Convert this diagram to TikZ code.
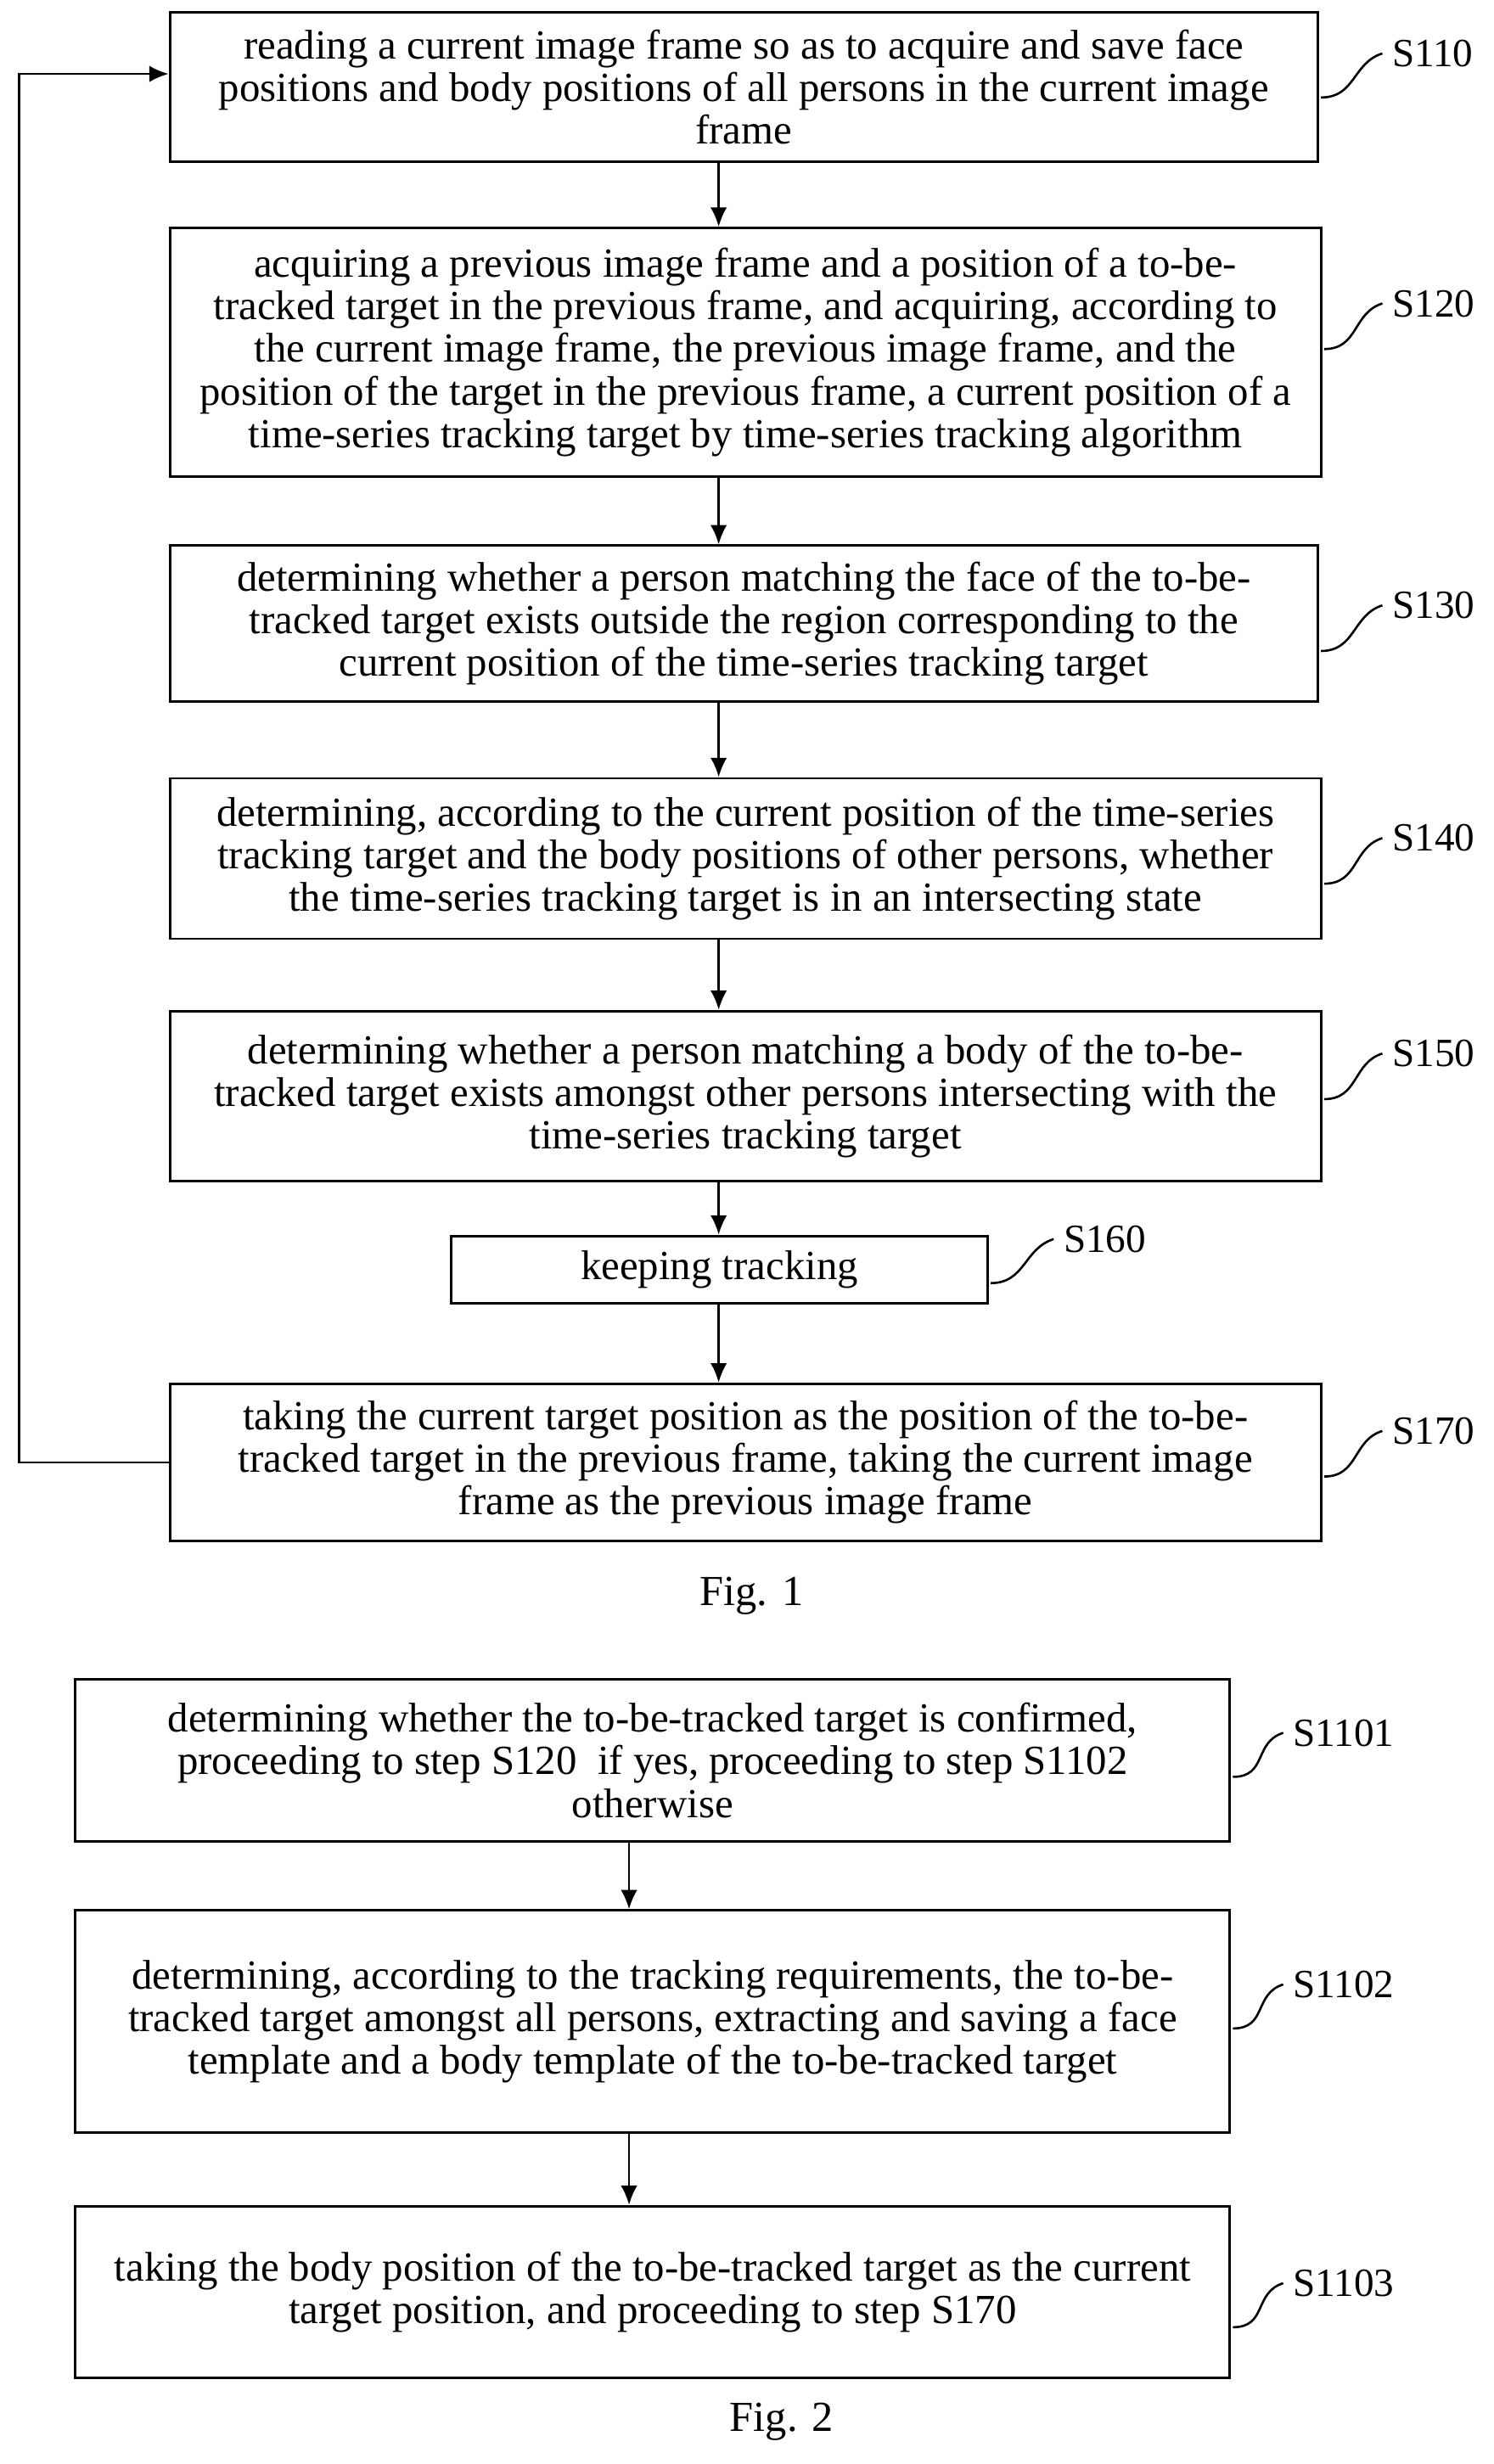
\documentclass[tikz,border=0pt]{standalone}
\usepackage{fontspec}
\setmainfont{Liberation Serif}
\usetikzlibrary{arrows.meta,calc}
\begin{document}
\begin{tikzpicture}[x=0.02cm,y=-0.02cm,
  box/.style={draw,line width=0.9pt,inner sep=0pt,align=center,font=\fontsize{15}{15.4}\selectfont},
  lab/.style={font=\fontsize{14.5}{15}\selectfont,anchor=west,inner sep=0pt},
  arr/.style={-{Latex[length=7pt,width=6pt]},line width=0.8pt},
  brk/.style={line width=0.8pt}]
\useasboundingbox (0,0) rectangle (950,1567);
\newcommand{\bx}[5]{\node[box,minimum width=#3*0.02cm,minimum height=#4*0.02cm] (#1) at (#2) {#5};}
\bx{b110}{473,55.5}{730}{95}{reading a current image frame so as to acquire and save face\\ positions and body positions of all persons in the current image\\ frame}
\bx{b120}{474,224}{732}{158}{acquiring a previous image frame and a position of a to-be-\\tracked target in the previous frame, and acquiring, according to\\ the current image frame, the previous image frame, and the\\ position of the target in the previous frame, a current position of a\\ time-series tracking target by time-series tracking algorithm}
\bx{b130}{473,396.5}{730}{99}{determining whether a person matching the face of the to-be-\\tracked target exists outside the region corresponding to the\\ current position of the time-series tracking target}
\bx{b140}{474,546}{732}{102}{determining, according to the current position of the time-series\\ tracking target and the body positions of other persons, whether\\ the time-series tracking target is in an intersecting state}
\bx{b150}{474,697}{732}{108}{determining whether a person matching a body of the to-be-\\tracked target exists amongst other persons intersecting with the\\ time-series tracking target}
\bx{b160}{457.5,807.5}{341}{43}{keeping tracking}
\bx{b170}{474,930}{732}{100}{taking the current target position as the position of the to-be-\\tracked target in the previous frame, taking the current image\\ frame as the previous image frame}
\node[font=\fontsize{15.5}{15}\selectfont] (f1) at (478,1015) {Fig. 1};
\bx{b1101}{415,1119.5}{734}{103}{determining whether the to-be-tracked target is confirmed,\\ proceeding to step S120\ \ if yes, proceeding to step S1102\\ otherwise}
\bx{b1102}{415,1285.5}{734}{141}{determining, according to the tracking requirements, the to-be-\\tracked target amongst all persons, extracting and saving a face\\ template and a body template of the to-be-tracked target}
\bx{b1103}{415,1457.5}{734}{109}{taking the body position of the to-be-tracked target as the current\\ target position, and proceeding to step S170}
\node[font=\fontsize{15.5}{15}\selectfont] (f2) at (497,1540) {Fig. 2};
\foreach \a/\b in {b110/b120,b120/b130,b130/b140,b140/b150,b150/b160,b160/b170}
  \draw[arr] (\a.south -| 457,0) -- (\b.north -| 457,0);
\draw[arr] (b1101.south -| 400,0) -- (b1102.north -| 400,0);
\draw[arr] (b1102.south -| 400,0) -- (b1103.north -| 400,0);
\coordinate (c1) at (12,930);
\coordinate (c2) at (12,47);
\draw[arr] (b170.west) -- (c1) -- (c2) -- (b110.west |- c2);
\newcommand{\lb}[4]{\node[lab] (#1) at (#3) {#2};
 \draw[brk] (#4) .. controls ($(#4)+(22,0)$) and ($(#1.west)+(-25,6)$) .. ($(#1.west)+(-6,0)$);}
\coordinate (p110) at (840,62);  \lb{l110}{S110}{885,34}{p110}
\coordinate (p120) at (842,222); \lb{l120}{S120}{885,193}{p120}
\coordinate (p130) at (840,414); \lb{l130}{S130}{885,385}{p130}
\coordinate (p140) at (842,562); \lb{l140}{S140}{885,533}{p140}
\coordinate (p150) at (842,699); \lb{l150}{S150}{885,670}{p150}
\coordinate (p160) at (630,816); \lb{l160}{S160}{676,788}{p160}
\coordinate (p170) at (842,939); \lb{l170}{S170}{885,910}{p170}
\coordinate (p1101) at (784,1130); \lb{l1101}{S1101}{822,1102}{p1101}
\coordinate (p1102) at (784,1290); \lb{l1102}{S1102}{822,1262}{p1102}
\coordinate (p1103) at (784,1480); \lb{l1103}{S1103}{822,1452}{p1103}
\end{tikzpicture}
\end{document}
